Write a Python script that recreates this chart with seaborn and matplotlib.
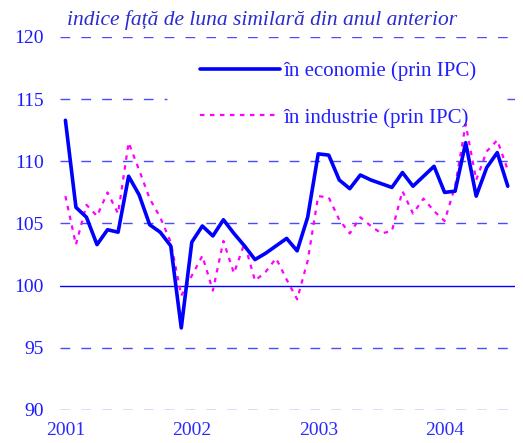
import matplotlib
matplotlib.use("Agg")
import matplotlib.pyplot as plt
import pandas as pd
import seaborn as sns

# monthly indices, Jan 2001 .. Jul 2004 (same month of previous year = 100)
economie = [113.3, 106.3, 105.5, 103.3, 104.5, 104.3, 108.8, 107.3, 104.9, 104.3, 103.2, 96.6,
            103.5, 104.8, 104.0, 105.3, 104.2, 103.2, 102.1, 102.6, 103.2, 103.8, 102.8, 105.5,
            110.6, 110.5, 108.5, 107.8, 108.9, 108.5, 108.2, 107.9, 109.1, 108.0, 108.8, 109.6,
            107.5, 107.6, 111.5, 107.2, 109.5, 110.7, 108.0]
industrie = [107.2, 103.3, 106.5, 105.6, 107.5, 105.8, 111.5, 109.3, 107.0, 105.5, 103.5, 99.2,
             100.8, 102.4, 99.6, 103.6, 101.0, 103.4, 100.4, 101.1, 102.2, 100.5, 98.9, 102.0,
             107.2, 107.1, 105.3, 104.2, 105.5, 104.8, 104.2, 104.4, 107.6, 105.8, 107.0, 106.0,
             105.2, 108.0, 113.0, 108.5, 110.8, 111.7, 109.3]
years = ["2001", "2002", "2003", "2004"]
y_ticks = [90, 95, 100, 105, 110, 115, 120]
title = "indice față de luna similară din anul anterior"
label_eco = "în economie (prin IPC)"
label_ind = "în industrie (prin IPC)"

df = pd.DataFrame({"luna": range(len(economie)), "economie": economie, "industrie": industrie})

sns.set_style("white")
plt.rcParams["font.family"] = ["Liberation Serif", "DejaVu Serif"]

fig = plt.figure(figsize=(5.23, 4.43), dpi=100)
ax = fig.add_axes([0.115, 0.0745, 0.87, 0.842])

# grid lines (the 115 one is hidden behind the legend box in the original)
for v in y_ticks:
    if v == 100:
        ax.axhline(v, color="#0000ff", lw=1.0, zorder=1)
    elif v == 115:
        ax.axhline(v, xmax=0.235, color="#4a4aff", lw=1.0, ls=(0, (7, 8)), zorder=1)
        ax.axhline(v, xmin=0.982, color="#4a4aff", lw=1.0, ls=(0, (7, 8)), zorder=1)
    else:
        ax.axhline(v, color="#4a4aff", lw=1.0, ls=(0, (7, 8)), zorder=1)

sns.lineplot(data=df, x="luna", y="economie", ax=ax, color="#0000ff", lw=2.6,
             label=label_eco, zorder=4)
sns.lineplot(data=df, x="luna", y="industrie", ax=ax, color="#ff00ff", lw=1.6,
             ls=(0, (2, 2.5)), label=label_ind, zorder=3)

ax.set_xlim(-0.5, 42.7)
ax.set_ylim(90, 120)
ax.set_yticks(y_ticks)
ax.set_yticklabels([str(v) for v in y_ticks], fontsize=14, color="#1a1aff")
ax.set_xticks([0, 12, 24, 36])
ax.set_xticklabels(years, fontsize=14, color="#2a2aff")
ax.tick_params(axis="y", length=0, pad=12)
ax.tick_params(axis="x", length=0, pad=9)
ax.set_xlabel("")
ax.set_ylabel("")
for s in ax.spines.values():
    s.set_visible(False)

leg = ax.legend(loc="upper left", bbox_to_anchor=(0.27, 0.98), frameon=False,
                fontsize=15, handlelength=3.85, handletextpad=0.15, labelspacing=1.3,
                borderpad=0.3)
for t in leg.get_texts():
    t.set_color("#2020ff")

fig.text(0.128, 0.955, title, fontsize=15.5, style="italic", color="#2b2bd0", va="center")

fig.savefig("out.png", dpi=100)
